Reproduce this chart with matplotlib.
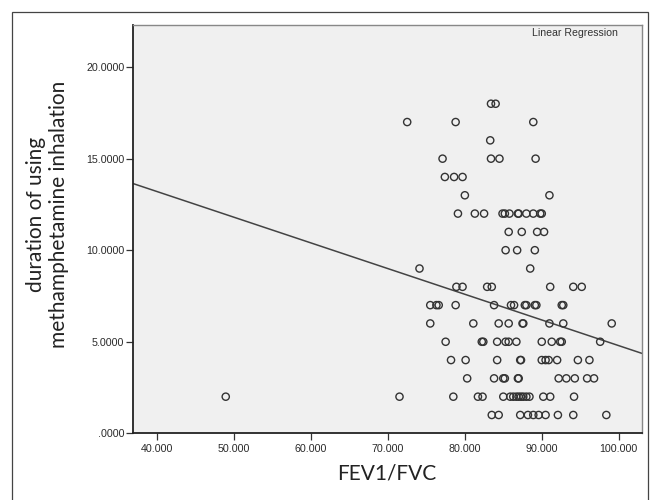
import matplotlib.pyplot as plt
from matplotlib.patches import Rectangle
import numpy as np

duration_levels = [18, 17, 16, 15, 14, 13, 12, 11, 10, 9, 8, 7, 6, 5, 4, 3, 2, 1]
fev_by_level = [
    [83.4, 84.0],
    [72.5, 78.8, 88.9],
    [83.3],
    [77.1, 83.4, 84.5, 89.2],
    [77.4, 78.6, 79.7],
    [80.0, 91.0],
    [79.1, 81.3, 82.5, 84.9, 85.2, 85.8, 86.9, 87.0, 88.0, 88.9, 89.8, 90.0],
    [85.7, 87.4, 89.4, 90.3],
    [85.3, 86.8, 89.1],
    [74.1, 88.5],
    [78.9, 79.7, 82.9, 83.5, 91.1, 94.1, 95.2],
    [75.5, 76.3, 76.6, 78.8, 83.8, 86.0, 86.4, 87.8, 88.0, 89.1, 89.3, 92.6, 92.8],
    [75.5, 81.1, 84.4, 85.7, 87.5, 87.6, 91.0, 92.8, 99.1],
    [77.5, 82.2, 82.4, 84.2, 85.3, 85.7, 86.7, 90.0, 91.3, 92.4, 92.6, 97.6],
    [78.2, 80.1, 84.2, 87.2, 87.3, 90.0, 90.5, 90.9, 92.0, 94.7, 96.2],
    [80.3, 83.8, 85.0, 85.2, 86.9, 87.0, 92.2, 93.2, 94.3, 95.9, 96.8],
    [48.9, 71.5, 78.5, 81.7, 82.3, 85.0, 85.9, 86.3, 86.7, 87.0, 87.3, 87.6,
     88.0, 88.4, 90.2, 91.1, 94.2],
    [83.5, 84.4, 87.2, 88.2, 88.9, 89.6, 90.5, 92.1, 94.1, 98.4],
]

x_ticks = [40, 50, 60, 70, 80, 90, 100]
x_tick_labels = ['40.000', '50.000', '60.000', '70.000', '80.000', '90.000', '100.000']
y_ticks = [0, 5, 10, 15, 20]
y_tick_labels = ['.0000', '5.0000', '10.0000', '15.0000', '20.0000']

fev = np.array([v for row in fev_by_level for v in row])
duration = np.array([lvl for lvl, row in zip(duration_levels, fev_by_level) for _ in row])

fig = plt.figure(figsize=(6.51, 5.0), dpi=100)
fig.patch.set_facecolor('white')

# outer frame around the whole chart
fig.patches.append(Rectangle((12/651, -0.2), (648-12)/651, 1.2 - 12/500,
                             transform=fig.transFigure, fill=False,
                             edgecolor='#444444', linewidth=0.9))

ax = fig.add_axes([132.7/651, 1 - 433.3/500, (641.7-132.7)/651, (433.3-25)/500])
ax.set_facecolor('#f0f0f0')

ax.scatter(fev, duration, s=27, facecolors='none', edgecolors='#333333', linewidths=1.0, zorder=3)

xlim = (36.8, 103.0)
slope, intercept = np.polyfit(fev, duration, 1)
xs = np.array(xlim)
ax.plot(xs, intercept + slope*xs, color='#444444', linewidth=1.1, zorder=2)

ax.set_xlim(*xlim)
ax.set_ylim(0, 22.3)

ax.set_xticks(x_ticks)
ax.set_xticklabels(x_tick_labels)
ax.set_yticks(y_ticks)
ax.set_yticklabels(y_tick_labels)
ax.tick_params(direction='out', length=5, width=0.9, color='#333333',
               labelsize=7.7, labelcolor='#2a2a2a')
ax.tick_params(axis='y', pad=1)
ax.tick_params(axis='x', pad=2.5)
for lab in ax.get_xticklabels() + ax.get_yticklabels():
    lab.set_family('Liberation Sans')

for side in ['left', 'bottom']:
    ax.spines[side].set_color('#222222')
    ax.spines[side].set_linewidth(1.3)
for side in ['top', 'right']:
    ax.spines[side].set_color('#888888')
    ax.spines[side].set_linewidth(1.0)

ax.text(0.953, 0.980, 'Linear Regression', transform=ax.transAxes, ha='right', va='center',
        fontsize=7.6, family='Liberation Sans', color='#333333')

ax.set_xlabel('FEV1/FVC', family='Lato', fontsize=15, color='#222222', labelpad=7)
ax.set_ylabel('duration of using\nmethamphetamine inhalation', family='Lato', fontsize=15,
              color='#222222', linespacing=1.2)
ax.yaxis.set_label_coords(-0.125, 0.537)

fig.savefig('out.png', dpi=100)
